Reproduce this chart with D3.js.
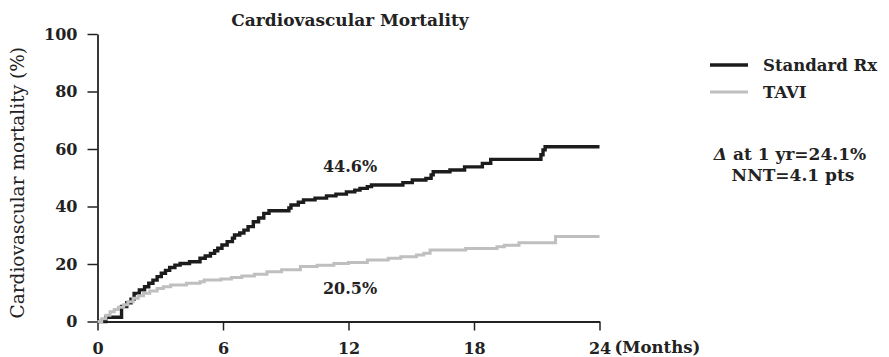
<!DOCTYPE html>
<html>
<head>
<meta charset="utf-8">
<script src="https://cdn.jsdelivr.net/npm/d3@7"></script>
<style>
  html, body { margin: 0; padding: 0; background: #fff; }
  svg { display: block; }
  text { font-family: "DejaVu Serif", serif; fill: #222; }
</style>
</head>
<body>
<svg id="chart" width="889" height="357"></svg>
<script>
// ---- Data ----
const title = "Cardiovascular Mortality";
const yLabel = "Cardiovascular mortality (%)";
const xTicks = [0, 6, 12, 18, 24];
const yTicks = [0, 20, 40, 60, 80, 100];
const seriesNames = ["Standard Rx", "TAVI"];

// Standard Rx: step curve [month, cumulative %]
const stdMonths = [0, 0.4, 1.15, 1.4, 1.6, 1.75, 2.0, 2.25, 2.45, 2.65, 2.85, 3.05, 3.25, 3.45, 3.7, 3.95, 4.4, 4.9, 5.15, 5.4, 5.6, 5.75, 5.95, 6.2, 6.45, 6.55, 6.8, 7.0, 7.2, 7.45, 7.7, 7.95, 8.2, 9.15, 9.25, 9.6, 9.85, 10.4, 10.95, 11.4, 11.9, 12.3, 12.55, 12.9, 13.1, 14.6, 15.05, 15.7, 15.95, 16.05, 16.85, 17.55, 18.4, 18.8, 21.2, 21.3, 21.4, 24];
const stdValues = [0, 1.5, 5.2, 6.5, 7.8, 9.8, 11.0, 12.1, 13.3, 14.4, 15.6, 16.8, 17.8, 18.8, 19.6, 20.2, 20.8, 22.0, 22.8, 23.7, 24.6, 25.5, 26.6, 27.8, 29.0, 30.1, 30.8, 31.8, 33.0, 34.7, 36.0, 37.6, 38.5, 39.5, 40.5, 41.5, 42.3, 42.9, 43.7, 44.3, 45.1, 45.7, 46.3, 46.9, 47.5, 48.3, 49.2, 49.8, 51.0, 52.1, 52.7, 53.8, 55.0, 56.4, 58.0, 59.7, 60.8, 60.8];

// TAVI: step curve [month, cumulative %]
const taviMonths = [0, 0.2, 0.4, 0.6, 0.8, 1.0, 1.25, 1.45, 1.7, 1.95, 2.2, 2.5, 2.85, 3.15, 3.5, 4.25, 4.9, 5.1, 5.9, 6.4, 6.9, 7.5, 8.1, 8.8, 9.7, 10.5, 11.3, 12.0, 12.9, 13.9, 14.5, 15.25, 15.6, 15.9, 17.6, 19.1, 19.45, 20.15, 21.9, 24];
const taviValues = [0, 1.0, 2.2, 3.4, 4.2, 5.0, 5.8, 6.9, 8.1, 9.0, 9.8, 10.6, 11.5, 12.1, 12.7, 13.3, 13.8, 14.4, 14.8, 15.3, 15.8, 16.4, 17.3, 18.0, 19.1, 19.6, 20.2, 20.5, 21.4, 22.0, 22.5, 23.1, 23.7, 24.9, 25.4, 26.0, 26.5, 27.4, 29.6, 29.6];

const oneYearLabels = ["44.6%", "20.5%"];
const annotation1 = "at 1 yr=24.1%";
const annotation2 = "NNT=4.1 pts";

// ---- Layout ----
const svg = d3.select("#chart");
const x = d3.scaleLinear().domain([0, 24]).range([97.5, 599.5]);
const y = d3.scaleLinear().domain([0, 100]).range([321.5, 34]);

const colors = { std: "#1c1c1c", tavi: "#bfbfbf" };
const ff = "DejaVu Serif, serif";

// Title
svg.append("text")
  .attr("x", 350).attr("y", 26)
  .attr("text-anchor", "middle")
  .style("font-size", "17px").style("font-weight", "bold")
  .text(title);

// Y axis
const yAxis = d3.axisLeft(y).tickValues(yTicks).tickSize(10).tickPadding(10).tickSizeOuter(0);
const gy = svg.append("g").attr("transform", `translate(${x(0)},0)`).call(yAxis);
gy.select(".domain").attr("stroke", "#222").attr("stroke-width", 1.8);
gy.selectAll(".tick line").attr("stroke", "#222").attr("stroke-width", 1.5);
gy.selectAll(".tick text").style("font-family", ff)
  .style("font-size", "16px").style("font-weight", "bold").attr("fill", "#222");

// X axis
const xAxis = d3.axisBottom(x).tickValues(xTicks).tickSize(9).tickPadding(12).tickSizeOuter(0);
const gx = svg.append("g").attr("transform", `translate(0,${y(0)})`).call(xAxis);
gx.select(".domain").attr("stroke", "#222").attr("stroke-width", 1.8);
gx.selectAll(".tick line").attr("stroke", "#222").attr("stroke-width", 1.5);
gx.selectAll(".tick text").style("font-family", ff)
  .style("font-size", "16px").style("font-weight", "bold").attr("fill", "#222");

// "(Months)" after the last tick label
svg.append("text")
  .attr("x", x(24) + 15).attr("y", 353)
  .style("font-size", "16.5px").style("font-weight", "bold")
  .text("(Months)");

// Y label
svg.append("text")
  .attr("transform", `translate(24,${(y(0) + y(100)) / 2 + 5}) rotate(-90)`)
  .attr("text-anchor", "middle")
  .style("font-size", "18.5px")
  .text(yLabel);

// Curves
const line = d3.line().x(d => x(d[0])).y(d => y(d[1])).curve(d3.curveStepAfter);
const stdData = stdMonths.map((m, i) => [m, stdValues[i]]);
const taviData = taviMonths.map((m, i) => [m, taviValues[i]]);

svg.append("path").datum(stdData)
  .attr("d", line).attr("fill", "none")
  .attr("stroke", colors.std).attr("stroke-width", 3.4).attr("stroke-linejoin", "miter");
svg.append("path").datum(taviData)
  .attr("d", line).attr("fill", "none")
  .attr("stroke", colors.tavi).attr("stroke-width", 3).attr("stroke-linejoin", "miter");

// One-year labels
svg.append("text").attr("x", 350).attr("y", 172).attr("text-anchor", "middle")
  .style("font-size", "16px").style("font-weight", "bold").text(oneYearLabels[0]);
svg.append("text").attr("x", 350).attr("y", 294).attr("text-anchor", "middle")
  .style("font-size", "16px").style("font-weight", "bold").text(oneYearLabels[1]);

// Legend
const legend = svg.append("g");
const legendItems = [
  { name: seriesNames[0], color: colors.std, w: 3.4, yy: 65 },
  { name: seriesNames[1], color: colors.tavi, w: 3, yy: 92 }
];
legendItems.forEach(it => {
  legend.append("line").attr("x1", 710).attr("x2", 748).attr("y1", it.yy).attr("y2", it.yy)
    .attr("stroke", it.color).attr("stroke-width", it.w);
  legend.append("text").attr("x", 763).attr("y", it.yy + 6)
    .style("font-size", "16.5px").style("font-weight", "bold").text(it.name);
});

// Annotation
const a1 = svg.append("text").attr("x", 790).attr("y", 160).attr("text-anchor", "middle")
  .style("font-size", "17px").style("font-weight", "bold");
a1.append("tspan").style("font-style", "italic").text("Δ ");
a1.append("tspan").text(annotation1);
svg.append("text").attr("x", 793).attr("y", 181).attr("text-anchor", "middle")
  .style("font-size", "17px").style("font-weight", "bold").text(annotation2);
</script>
</body>
</html>
